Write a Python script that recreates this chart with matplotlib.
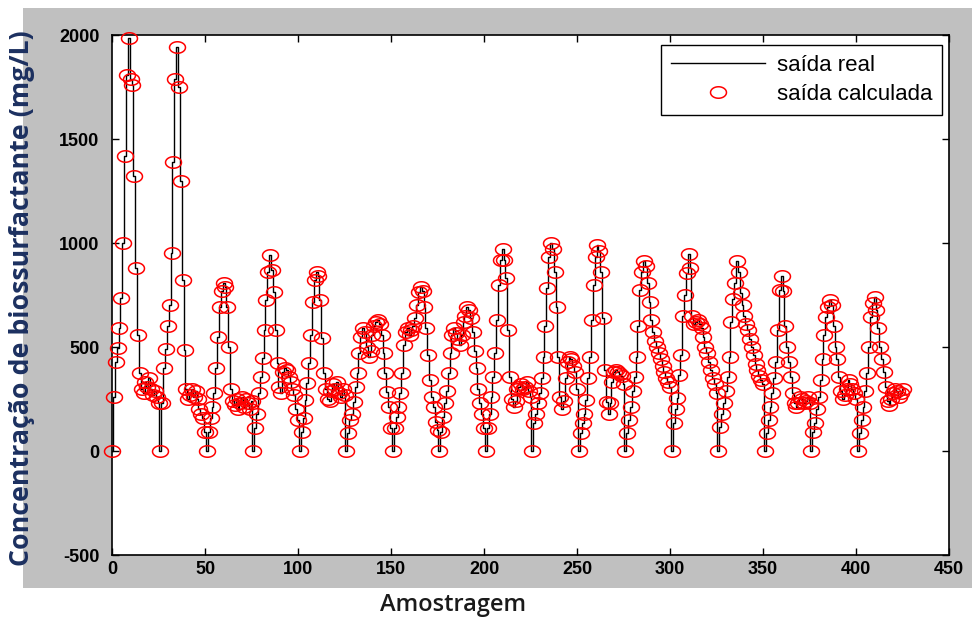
import numpy as np
import matplotlib
matplotlib.use("Agg")
import matplotlib.pyplot as plt
from matplotlib.path import Path
from matplotlib.patches import Rectangle

plt.rcParams["axes.unicode_minus"] = False

# Biosurfactant concentration per batch (mg/L); each batch begins at an empty reactor
batch_00 = [0, 260, 430, 495, 590, 735, 1000, 1420, 1810, 1985, 1790, 1760, 1320, 880, 560,
            375, 300, 280, 330, 310, 350, 300, 270, 290, 260, 230]
batch_01 = [0, 230, 400, 490, 600, 700, 950, 1390, 1790, 1940, 1750, 1300, 820, 485, 300,
            250, 270, 300, 260, 290, 250, 200, 180, 160, 90]
batch_02 = [0, 90, 160, 210, 280, 400, 550, 690, 770, 810, 790, 690, 500, 300, 240,
            220, 250, 200, 230, 260, 210, 250, 230, 200, 240]
batch_03 = [0, 110, 180, 280, 355, 445, 580, 725, 860, 940, 870, 765, 580, 425, 310,
            280, 380, 400, 390, 355, 330, 300, 270, 200, 150]
batch_04 = [0, 90, 160, 245, 325, 425, 560, 715, 820, 860, 840, 725, 545, 375, 300,
            250, 240, 290, 320, 300, 330, 280, 260, 300, 270]
batch_05 = [0, 85, 150, 180, 235, 310, 375, 470, 550, 590, 570, 500, 450, 480, 560,
            600, 620, 630, 610, 560, 470, 375, 285, 210, 110]
batch_06 = [0, 110, 165, 210, 280, 375, 510, 570, 590, 560, 580, 600, 640, 700, 765,
            790, 770, 690, 590, 460, 340, 260, 210, 140, 100]
batch_07 = [0, 90, 165, 230, 290, 375, 470, 560, 590, 565, 540, 510, 560, 620, 650,
            690, 680, 640, 570, 480, 400, 300, 230, 180, 110]
batch_08 = [0, 110, 180, 260, 355, 470, 630, 800, 920, 970, 920, 830, 580, 355, 250,
            210, 240, 300, 310, 320, 300, 310, 330, 290, 260]
batch_09 = [0, 135, 180, 230, 280, 350, 450, 600, 785, 935, 1000, 970, 860, 690, 450,
            260, 200, 240, 350, 430, 450, 440, 410, 380, 300]
batch_10 = [0, 85, 135, 180, 245, 350, 450, 630, 800, 935, 990, 960, 860, 640, 390,
            235, 180, 230, 330, 380, 390, 380, 370, 360, 320]
batch_11 = [0, 85, 150, 210, 290, 355, 450, 600, 775, 860, 915, 890, 810, 715, 630,
            570, 530, 500, 470, 440, 410, 380, 350, 330, 310]
batch_12 = [0, 135, 200, 255, 365, 460, 650, 750, 855, 945, 880, 650, 610, 620, 630,
            610, 590, 550, 500, 470, 430, 390, 350, 320, 280]
batch_13 = [0, 115, 180, 230, 290, 355, 450, 620, 730, 810, 915, 860, 760, 700, 650,
            610, 580, 540, 500, 460, 420, 390, 360, 340, 320]
batch_14 = [0, 85, 150, 210, 280, 350, 430, 580, 775, 840, 770, 600, 500, 430, 355,
            280, 230, 210, 230, 260, 250, 230, 240, 260, 230]
batch_15 = [0, 90, 135, 200, 260, 340, 440, 560, 645, 690, 725, 700, 600, 500, 440,
            355, 290, 250, 270, 300, 340, 320, 300, 280, 250]
batch_16 = [0, 85, 150, 210, 290, 375, 500, 645, 710, 740, 680, 590, 500, 440, 380,
            310, 240, 220, 250, 280, 300, 290, 260, 280, 300]

batches = [batch_00, batch_01, batch_02, batch_03, batch_04, batch_05, batch_06,
           batch_07, batch_08, batch_09, batch_10, batch_11, batch_12, batch_13,
           batch_14, batch_15, batch_16]

saida_real = np.concatenate([np.asarray(b, dtype=float) for b in batches])
saida_calculada = saida_real.copy()
amostras = np.arange(len(saida_real))

x_ticks = [0, 50, 100, 150, 200, 250, 300, 350, 400, 450]
y_ticks = [-500, 0, 500, 1000, 1500, 2000]

fig = plt.figure(figsize=(9.72, 6.26), dpi=100, facecolor="white")

# grey panel behind the axes
fig.patches.append(Rectangle((23 / 972, 1 - 588 / 626), 1 - 23 / 972, (588 - 8) / 626,
                             transform=fig.transFigure, facecolor="#c0c0c0",
                             edgecolor="none", zorder=-10))

ax = fig.add_axes([112 / 972, 1 - 555 / 626, (949 - 112) / 972, (555 - 35) / 626])
ax.set_facecolor("white")

# slightly wide open-circle marker
t = np.linspace(0, 2 * np.pi, 40)
ellipse = Path(np.column_stack([np.cos(t), 0.72 * np.sin(t)]), closed=True)

ax.plot(amostras, saida_real, color="black", lw=1.0, drawstyle="steps-mid",
        label="saída real", zorder=2)
ax.plot(amostras, saida_calculada, ls="none", marker=ellipse, markersize=11.5,
        markerfacecolor="none", markeredgecolor="red", markeredgewidth=1.1,
        label="saída calculada", zorder=3, clip_on=False)

ax.set_xlim(0, 450)
ax.set_ylim(-500, 2000)
ax.set_xticks(x_ticks)
ax.set_yticks(y_ticks)
ax.tick_params(direction="in", top=True, right=True, length=5, width=1, pad=4)
for lab in ax.get_xticklabels() + ax.get_yticklabels():
    lab.set_fontfamily("Liberation Sans")
    lab.set_fontweight("bold")
    lab.set_fontsize(13)
ax.tick_params(axis="y", pad=9)
for s in ax.spines.values():
    s.set_linewidth(1.2)

leg = ax.legend(loc="upper right", bbox_to_anchor=(0.992, 0.981), frameon=True,
                fancybox=False, edgecolor="black", framealpha=1,
                prop={"family": "Liberation Sans", "size": 16},
                handlelength=4.2, handletextpad=0.55, borderpad=0.45,
                labelspacing=0.35, borderaxespad=0.0)
leg.get_frame().set_linewidth(1.0)

fig.text(22 / 972, 1 - 298 / 626, "Concentração de biossurfactante (mg/L)",
         rotation=90, ha="center", va="center", color="#1c3060",
         fontfamily="Open Sans", fontweight="bold", fontsize=19.3)
fig.text(453 / 972, 1 - 605 / 626, "Amostragem", ha="center", va="center",
         color="#1a1a1a", fontfamily="Open Sans", fontweight="semibold", fontsize=17)

fig.savefig("out.png", dpi=100, facecolor=fig.get_facecolor())
